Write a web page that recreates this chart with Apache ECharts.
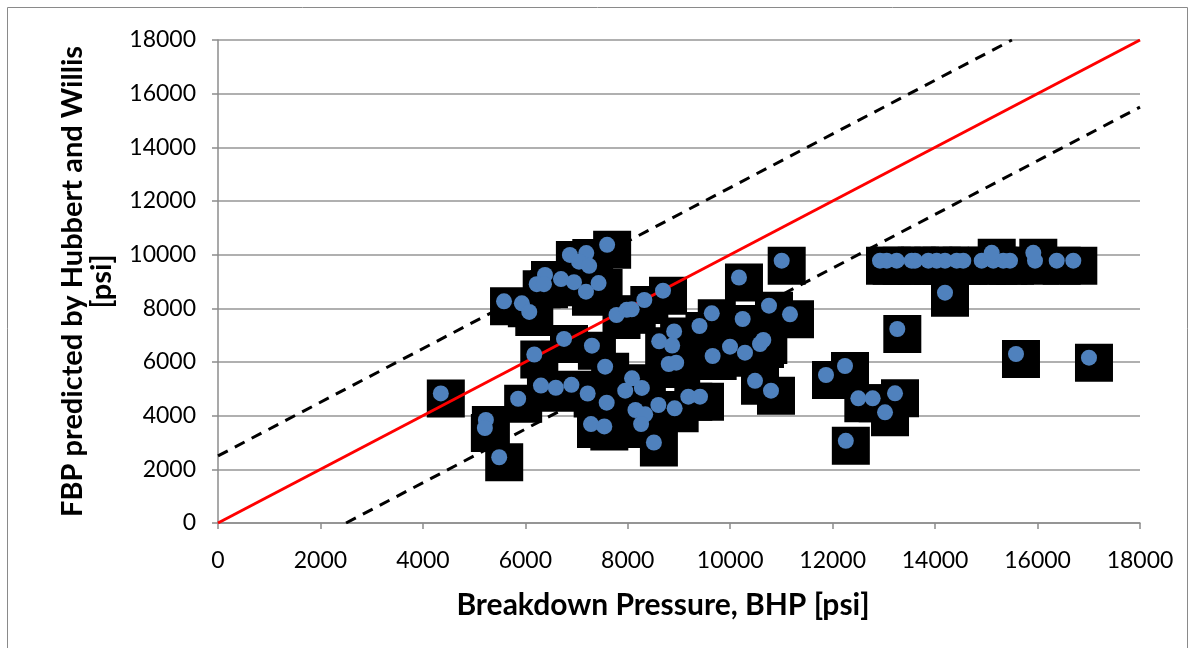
<!DOCTYPE html>
<html>
<head>
<meta charset="utf-8">
<title>FBP vs Breakdown Pressure</title>
<script src="https://cdn.jsdelivr.net/npm/echarts@6/dist/echarts.min.js"></script>
<style>
  html, body { margin: 0; padding: 0; background: #fff; }
  #chart { width: 1190px; height: 648px; }
</style>
</head>
<body>
<div id="chart"></div>
<script>
// Measured breakdown pressure (BHP) for each well, psi
const bhpPsi = [
  4350, 5230, 5210, 5490, 5860, 6175, 6305, 6595, 6900, 6755,
  7217, 7300, 7282, 7542, 7588, 7558, 7950, 8083, 8275, 8150,
  8340, 8260, 8510, 8597, 8915, 9182, 9410, 8905, 8613, 8867,
  8800, 8945, 9400, 9640, 9657, 9996, 10288, 10581, 10646, 10484,
  10796, 10171, 10757, 11167, 10243, 11005, 7780, 7979, 8077, 8323,
  8688, 5584, 5932, 6077, 6384, 6222, 6364, 6696, 6950, 6870,
  7190, 7048, 7246, 7184, 7430, 7597, 11870, 12241, 12501, 12781,
  13217, 13022, 12257, 13262, 14193, 15579, 17004,
  12924, 13055, 13250, 13543, 13607, 13867, 14031, 14193, 14421, 14550,
  14910, 15136, 15331, 15462, 15950, 16374, 16698, 15105, 15917
];
// Fracture breakdown pressure predicted by Hubbert and Willis, psi
const fbpPsi = [
  4830, 3840, 3540, 2450, 4630, 6280, 5120, 5040, 5150, 6860,
  4825, 6610, 3685, 3600, 4484, 5826, 4932, 5392, 5035, 4211,
  4050, 3690, 3000, 4397, 4273, 4708, 4708, 7140, 6770, 6615,
  5925, 5975, 7342, 7814, 6224, 6571, 6348, 6671, 6820, 5300,
  4932, 9150, 8098, 7777, 7602, 9776, 7752, 7945, 7964, 8311,
  8657, 8262, 8188, 7865, 9242, 8900, 8900, 9090, 8975, 9990,
  10060, 9738, 9585, 8620, 8940, 10365, 5516, 5851, 4646, 4646,
  4832, 4124, 3062, 7230, 8583, 6298, 6160,
  9775, 9775, 9775, 9775, 9775, 9775, 9775, 9775, 9775, 9775,
  9775, 9775, 9775, 9775, 9775, 9775, 9775, 10070, 10070
];

// Reference lines: perfect agreement and a +/- 2500 psi band
const perfectLine = [[0, 0], [18000, 18000]];
const upperBand = [[0, 2500], [15500, 18000]];
const lowerBand = [[2500, 0], [18000, 15500]];

const axisTicks = { min: 0, max: 18000, interval: 2000 };

const points = bhpPsi.map((x, i) => [x, fbpPsi[i]]);

const chart = echarts.init(document.getElementById('chart'));
const gray = '#8c8c8c';
const font = 'Lato, "Liberation Sans", sans-serif';
const plainNumber = v => String(v);

chart.setOption({
  animation: false,
  backgroundColor: '#fff',
  graphic: [{
    type: 'rect',
    shape: { x: 7.5, y: 7.5, width: 1180, height: 660 },
    style: { fill: 'none', stroke: '#8a8a8a', lineWidth: 1 },
    silent: true, z: -10
  }],
  grid: { left: 218, right: 50, top: 40, bottom: 125 },
  xAxis: {
    type: 'value',
    min: axisTicks.min, max: axisTicks.max, interval: axisTicks.interval,
    name: 'Breakdown Pressure, BHP [psi]',
    nameLocation: 'middle',
    nameGap: 67,
    nameTextStyle: { fontFamily: font, fontWeight: 'bold', fontSize: 30, color: '#000', padding: [0, 32, 0, 0] },
    axisLine: { lineStyle: { color: gray, width: 1.5 } },
    axisTick: { show: true, inside: false, length: 6, lineStyle: { color: gray, width: 1.5 } },
    axisLabel: { fontFamily: font, fontSize: 23, color: '#000', margin: 26, formatter: plainNumber },
    splitLine: { show: false }
  },
  yAxis: {
    type: 'value',
    min: axisTicks.min, max: axisTicks.max, interval: axisTicks.interval,
    name: 'FBP predicted by Hubbert and Willis\n[psi]',
    nameLocation: 'middle',
    nameRotate: 90,
    nameGap: 102,
    nameTextStyle: { fontFamily: font, fontWeight: 'bold', fontSize: 29, color: '#000', lineHeight: 29, align: 'center' },
    axisLine: { show: true, lineStyle: { color: gray, width: 1.5 } },
    axisTick: { show: true, inside: false, length: 6, lineStyle: { color: gray, width: 1.5 } },
    axisLabel: { fontFamily: font, fontSize: 23, color: '#000', margin: 22, formatter: plainNumber },
    splitLine: { show: true, lineStyle: { color: '#969696', width: 1.5 } }
  },
  series: [
    {
      name: 'shadow',
      type: 'scatter',
      data: points,
      symbol: 'rect',
      symbolSize: 38,
      symbolOffset: [5, 5],
      itemStyle: { color: '#000', opacity: 1 },
      z: 1,
      silent: true
    },
    {
      name: 'y = x',
      type: 'line',
      data: perfectLine,
      showSymbol: false,
      lineStyle: { color: '#ff0000', width: 3 },
      z: 2
    },
    {
      name: '+2500',
      type: 'line',
      data: upperBand,
      showSymbol: false,
      lineStyle: { color: '#000', width: 3, type: [11, 8] },
      z: 2
    },
    {
      name: '-2500',
      type: 'line',
      data: lowerBand,
      showSymbol: false,
      lineStyle: { color: '#000', width: 3, type: [11, 8] },
      z: 2
    },
    {
      name: 'FBP',
      type: 'scatter',
      data: points,
      symbol: 'circle',
      symbolSize: 16,
      itemStyle: { color: '#4f81bd', opacity: 1 },
      z: 3
    }
  ]
});
</script>
</body>
</html>
